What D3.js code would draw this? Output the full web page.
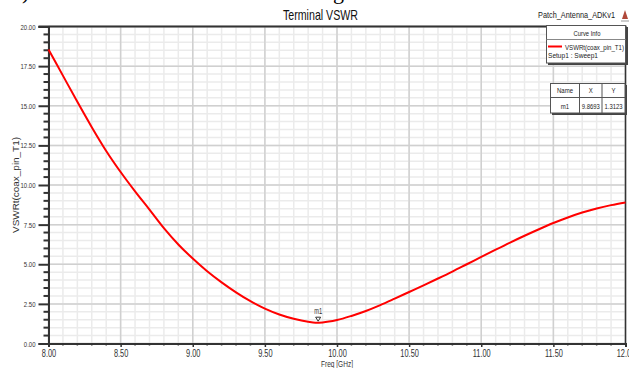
<!DOCTYPE html>
<html>
<head>
<meta charset="utf-8">
<script src="https://cdn.jsdelivr.net/npm/d3@7/dist/d3.min.js"></script>
<style>
  body { margin: 0; background: #fff; }
  svg { display: block; }
  text { font-family: "Liberation Sans", Arial, sans-serif; fill: #222; }
</style>
</head>
<body>
<svg width="629" height="368"></svg>
<script>
// VSWR curve
var freqGHz = [8.0, 8.1, 8.2, 8.3, 8.4, 8.5, 8.6, 8.7, 8.8, 8.9,
               9.0, 9.1, 9.2, 9.3, 9.4, 9.5, 9.6, 9.7, 9.8, 9.85, 9.9,
               10.0, 10.1, 10.2, 10.3, 10.4, 10.5, 10.6, 10.7, 10.8, 10.9,
               11.0, 11.1, 11.2, 11.3, 11.4, 11.5, 11.6, 11.7, 11.8, 11.9, 12.0];
var vswr    = [18.55, 16.9, 15.25, 13.65, 12.15, 10.82, 9.6, 8.45, 7.28, 6.25,
               5.36, 4.56, 3.86, 3.23, 2.67, 2.2, 1.83, 1.56, 1.37, 1.315, 1.33,
               1.48, 1.74, 2.05, 2.42, 2.83, 3.25, 3.67, 4.1, 4.54, 5.0,
               5.46, 5.92, 6.37, 6.8, 7.21, 7.6, 7.95, 8.26, 8.52, 8.73, 8.9];

var xMajor = [8.0, 8.5, 9.0, 9.5, 10.0, 10.5, 11.0, 11.5, 12.0];
var yMajor = [0, 2.5, 5, 7.5, 10, 12.5, 15, 17.5, 20];

var markerName = "m1";
var markerX = 9.8693;
var markerY = 1.3123;

var titleText = "Terminal VSWR";
var projectText = "Patch_Antenna_ADKv1";
var xLabel = "Freq [GHz]";
var yLabel = "VSWRt(coax_pin_T1)";
var legendHeader = "Curve Info";
var legendCurve = "VSWRt(coax_pin_T1)";
var legendSetup = "Setup1 : Sweep1";
var tableHead = ["Name", "X", "Y"];

var svg = d3.select("svg");

// plot box (window.top is reserved, so other names)
var pLeft = 48.5, pRight = 625.5, pTop = 26.5, pBottom = 343.5;

var x = d3.scaleLinear().domain([8, 12]).range([pLeft, pRight]);
var y = d3.scaleLinear().domain([0, 20]).range([pBottom, pTop]);

// squeeze text horizontally (the original uses a narrow font)
function narrow(sel, w) {
  sel.each(function() {
    var t = d3.select(this);
    var len = this.getComputedTextLength();
    var target = typeof w === "function" ? w(len) : w;
    t.attr("textLength", target).attr("lengthAdjust", "spacingAndGlyphs");
  });
}

// bits of the surrounding document text, cut at the top
svg.append("text").attr("x", 22).attr("y", -1.5)
    .style("font-family", "Liberation Serif").style("font-size", "22px").style("fill", "#000")
    .text(")");
svg.append("text").attr("x", 333).attr("y", -1.5)
    .style("font-family", "Liberation Serif").style("font-size", "22px").style("fill", "#000")
    .text("g");

// grid
var xMinor = d3.range(80, 121).map(function(d) { return d / 10; });
var yMinor = d3.range(0, 41).map(function(d) { return d / 2; });

var grid = svg.append("g");
grid.selectAll(".vminor").data(xMinor).enter().append("line")
    .attr("x1", function(d) { return x(d); }).attr("x2", function(d) { return x(d); })
    .attr("y1", pTop).attr("y2", pBottom)
    .attr("stroke", "#ebebeb").attr("stroke-width", 1.5);
grid.selectAll(".hminor").data(yMinor).enter().append("line")
    .attr("y1", function(d) { return y(d); }).attr("y2", function(d) { return y(d); })
    .attr("x1", pLeft).attr("x2", pRight)
    .attr("stroke", "#ebebeb").attr("stroke-width", 1.5);
grid.selectAll(".vmajor").data(xMajor).enter().append("line")
    .attr("x1", function(d) { return x(d); }).attr("x2", function(d) { return x(d); })
    .attr("y1", pTop).attr("y2", pBottom)
    .attr("stroke", "#d0d0d0").attr("stroke-width", 1.5);
grid.selectAll(".hmajor").data(yMajor).enter().append("line")
    .attr("y1", function(d) { return y(d); }).attr("y2", function(d) { return y(d); })
    .attr("x1", pLeft).attr("x2", pRight)
    .attr("stroke", "#d0d0d0").attr("stroke-width", 1.5);

// frame
svg.append("line").attr("x1", pLeft - 10).attr("x2", pRight + 1).attr("y1", pTop).attr("y2", pTop)
    .attr("stroke", "#333").attr("stroke-width", 2);
svg.append("line").attr("x1", pRight).attr("x2", pRight).attr("y1", pTop).attr("y2", pBottom)
    .attr("stroke", "#333").attr("stroke-width", 1.5);

// y axis
var yAxis = d3.axisLeft(y).tickValues(yMajor).tickSize(10)
    .tickFormat(function(d) { return d.toFixed(2); });
var gy = svg.append("g").attr("transform", "translate(" + pLeft + ",0)").call(yAxis);
gy.select(".domain").attr("stroke", "#333").attr("stroke-width", 2);
gy.selectAll(".tick line").attr("stroke", "#333").attr("stroke-width", 2);
gy.selectAll(".tick text").attr("x", -13).attr("dy", "0.34em")
    .style("font-size", "7.5px").style("fill", "#333").style("font-family", "Liberation Sans");
narrow(gy.selectAll(".tick text"), function(l) { return l * 0.8; });
svg.append("g").selectAll("line").data(yMinor.filter(function(d) { return d % 2.5 !== 0; }))
    .enter().append("line")
    .attr("x1", pLeft - 5).attr("x2", pLeft)
    .attr("y1", function(d) { return y(d); }).attr("y2", function(d) { return y(d); })
    .attr("stroke", "#333").attr("stroke-width", 2);

// x axis
var xAxis = d3.axisBottom(x).tickValues(xMajor).tickSize(3.5)
    .tickFormat(function(d) { return d.toFixed(2); });
var gx = svg.append("g").attr("transform", "translate(0," + pBottom + ")").call(xAxis);
gx.select(".domain").attr("stroke", "#333").attr("stroke-width", 2);
gx.selectAll(".tick line").attr("stroke", "#333").attr("stroke-width", 1.5);
gx.selectAll(".tick text").attr("y", 6).attr("dy", "0.71em")
    .style("font-size", "10px").style("fill", "#333").style("font-family", "Liberation Sans");
narrow(gx.selectAll(".tick text"), function(l) { return l * 0.74; });
svg.append("g").selectAll("line").data(xMinor.filter(function(d) { return Math.round(d * 10) % 5 !== 0; }))
    .enter().append("line")
    .attr("x1", function(d) { return x(d); }).attr("x2", function(d) { return x(d); })
    .attr("y1", pBottom).attr("y2", pBottom + 2)
    .attr("stroke", "#333").attr("stroke-width", 1.5);

// axis titles
svg.append("text").attr("x", 337).attr("y", 366.5).attr("text-anchor", "middle")
    .style("font-size", "9.5px").style("fill", "#333").text(xLabel)
    .call(narrow, 32);
svg.append("text").attr("transform", "translate(18.5,185) rotate(-90)")
    .attr("text-anchor", "middle")
    .style("font-size", "9px").style("fill", "#333").text(yLabel)
    .call(narrow, 96);

// title + project name
svg.append("text").attr("x", 320.5).attr("y", 20).attr("text-anchor", "middle")
    .style("font-size", "14.5px").style("fill", "#111").text(titleText)
    .call(narrow, 75);
svg.append("text").attr("x", 538).attr("y", 18)
    .style("font-size", "9.5px").style("fill", "#222").text(projectText)
    .call(narrow, 77);
// small logo
svg.append("path").attr("d", "M622,19 L625,10 L628,19 Z").attr("fill", "#b0483a");
svg.append("line").attr("x1", 621).attr("x2", 629).attr("y1", 21).attr("y2", 21)
    .attr("stroke", "#999").attr("stroke-width", 1);

// curve
var line = d3.line()
    .x(function(d, i) { return x(freqGHz[i]); })
    .y(function(d) { return y(d); })
    .curve(d3.curveMonotoneX);
svg.append("path").datum(vswr)
    .attr("d", line)
    .attr("fill", "none")
    .attr("stroke", "#ff0000")
    .attr("stroke-width", 2);

// marker
var mx = x(markerX), my = y(markerY);
svg.append("path")
    .attr("d", "M" + (mx - 2.5) + "," + (my - 5.5) + " L" + (mx + 2.5) + "," + (my - 5.5) +
               " L" + mx + "," + (my - 1.5) + " Z")
    .attr("fill", "#fff").attr("stroke", "#333").attr("stroke-width", 1);
svg.append("text").attr("x", mx).attr("y", my - 8.5).attr("text-anchor", "middle")
    .style("font-size", "8.5px").style("fill", "#333").text(markerName)
    .call(narrow, 8);

// legend box
var lg = svg.append("g");
lg.append("rect").attr("x", 548).attr("y", 27).attr("width", 80).attr("height", 38).attr("fill", "#444");
lg.append("rect").attr("x", 546.5).attr("y", 25.5).attr("width", 79).attr("height", 37.5)
    .attr("fill", "#fff").attr("stroke", "#555").attr("stroke-width", 1);
lg.append("line").attr("x1", 546.5).attr("x2", 625.5).attr("y1", 39.5).attr("y2", 39.5)
    .attr("stroke", "#888").attr("stroke-width", 1);
lg.append("text").attr("x", 587).attr("y", 35.5).attr("text-anchor", "middle")
    .style("font-size", "8px").text(legendHeader).call(narrow, 27);
lg.append("line").attr("x1", 548).attr("x2", 562).attr("y1", 46.5).attr("y2", 46.5)
    .attr("stroke", "#ff0000").attr("stroke-width", 2);
lg.append("text").attr("x", 565).attr("y", 49.5)
    .style("font-size", "8px").text(legendCurve).call(narrow, 59);
lg.append("text").attr("x", 548).attr("y", 58)
    .style("font-size", "8px").text(legendSetup).call(narrow, 50);

// marker table
var tb = svg.append("g");
var cols = [550.5, 579.5, 602, 625];
tb.append("rect").attr("x", 552).attr("y", 85).attr("width", 75).attr("height", 30).attr("fill", "#444");
tb.append("rect").attr("x", 550.5).attr("y", 83.5).attr("width", 74.5).attr("height", 29.5)
    .attr("fill", "#fff").attr("stroke", "#555").attr("stroke-width", 1);
tb.append("line").attr("x1", 550.5).attr("x2", 625).attr("y1", 97.5).attr("y2", 97.5)
    .attr("stroke", "#555").attr("stroke-width", 1);
tb.selectAll(".col").data(cols.slice(1, 3)).enter().append("line")
    .attr("x1", function(d) { return d; }).attr("x2", function(d) { return d; })
    .attr("y1", 83.5).attr("y2", 113)
    .attr("stroke", "#555").attr("stroke-width", 1);
var rowVals = [markerName, markerX.toFixed(4), markerY.toFixed(4)];
tableHead.forEach(function(h, i) {
  var cx = (cols[i] + cols[i + 1]) / 2;
  tb.append("text").attr("x", cx).attr("y", 93).attr("text-anchor", "middle")
      .style("font-size", "7.5px").text(h).call(narrow, function(l) { return l * 0.8; });
  tb.append("text").attr("x", cx).attr("y", 108.5).attr("text-anchor", "middle")
      .style("font-size", "7.5px").text(rowVals[i]).call(narrow, function(l) { return Math.min(l * 0.8, 18); });
});
</script>
</body>
</html>
